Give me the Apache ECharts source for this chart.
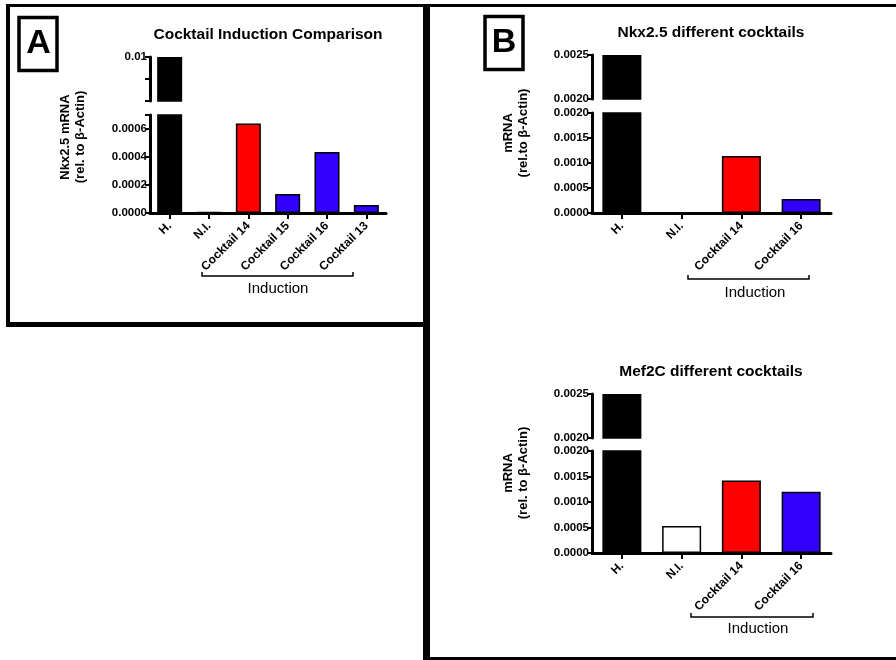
<!DOCTYPE html>
<html><head><meta charset="utf-8">
<script src="https://cdn.jsdelivr.net/npm/echarts@6/dist/echarts.min.js"></script>
<style>html,body{margin:0;padding:0;background:#fff}#c{width:896px;height:660px}</style>
</head><body><div id="c"></div>
<script>
// ---- data ----
const catsA = ['H.', 'N.I.', 'Cocktail 14', 'Cocktail 15', 'Cocktail 16', 'Cocktail 13'];
const valsA = [0.01, 0.000008, 0.00064, 0.000136, 0.000436, 0.000057];
const colorsA = ['#000000', '#ffffff', '#ff0000', '#3300ff', '#3300ff', '#3300ff'];

const catsB = ['H.', 'N.I.', 'Cocktail 14', 'Cocktail 16'];
const valsNkx = [0.0025, 0, 0.00114, 0.00028];
const valsMef = [0.0025, 0.00053, 0.00142, 0.0012];
const colorsB = ['#000000', '#ffffff', '#ff0000', '#3300ff'];

const ticksAUpper = ['0.01'];
const ticksALower = ['0.0000', '0.0002', '0.0004', '0.0006'];
const ticksBUpper = ['0.0020', '0.0025'];
const ticksBLower = ['0.0000', '0.0005', '0.0010', '0.0015', '0.0020'];

const titleA = 'Cocktail Induction Comparison';
const titleB1 = 'Nkx2.5 different cocktails';
const titleB2 = 'Mef2C different cocktails';
const yNameA = 'Nkx2.5 mRNA\n(rel. to β-Actin)';
const yNameB1 = 'mRNA\n(rel.to β-Actin)';
const yNameB2 = 'mRNA\n(rel. to β-Actin)';
const groupLabel = 'Induction';

// ---- chart ----
const FF = '"Liberation Sans", Arial, sans-serif';
const chart = echarts.init(document.getElementById('c'), null, {renderer: 'canvas'});

function fmt(labels) {
  return function (v) {
    for (const l of labels) { if (Math.abs(parseFloat(l) - v) < 1e-9) return l; }
    return '';
  };
}
function barData(vals, colors) {
  return vals.map((v, i) => ({value: v, itemStyle: {color: colors[i]}}));
}

const grids = [
  {left: 150, top: 57, width: 236, height: 44},
  {left: 150, top: 115, width: 236, height: 98},
  {left: 592, top: 55, width: 239, height: 44},
  {left: 592, top: 113, width: 239, height: 100},
  {left: 592, top: 394, width: 239, height: 44},
  {left: 592, top: 451, width: 239, height: 102}
];

function xAx(i, cats, shown) {
  return {
    type: 'category', gridIndex: i, data: cats, show: shown,
    axisLine: {show: true, lineStyle: {color: '#000', width: 3}},
    axisTick: {show: true, alignWithLabel: true, length: 6, lineStyle: {color: '#000', width: 2}},
    axisLabel: {rotate: 45, interval: 0, fontWeight: 'bold', fontSize: 12, color: '#000', margin: 11, fontFamily: FF},
    splitLine: {show: false}
  };
}
function yAx(i, min, max, interval, labels) {
  return {
    type: 'value', gridIndex: i, min: min, max: max, interval: interval,
    axisLine: {show: true, lineStyle: {color: '#000', width: 3}},
    axisTick: {show: true, length: 5, lineStyle: {color: '#000', width: 2}},
    axisLabel: {formatter: fmt(labels), fontWeight: 'bold', fontSize: 11.5, color: '#000', margin: 3, fontFamily: FF},
    splitLine: {show: false}
  };
}
function barS(i, vals, colors, w) {
  return {
    type: 'bar', xAxisIndex: i, yAxisIndex: i, data: barData(vals, colors),
    barWidth: w, clip: true,
    itemStyle: {borderColor: '#000', borderWidth: 1.5}
  };
}

function txt(x, y, text, font, rot, lh) {
  return {
    type: 'text', x: x, y: y, rotation: rot || 0, silent: true,
    style: {text: text, font: font, fill: '#000', align: 'center', verticalAlign: 'middle',
            textAlign: 'center', textVerticalAlign: 'middle', lineHeight: lh || 16}
  };
}
function ln(x1, y1, x2, y2, w) {
  return {type: 'line', silent: true, shape: {x1: x1, y1: y1, x2: x2, y2: y2}, style: {stroke: '#000', lineWidth: w}};
}
function bracket(x1, x2, y) {
  return {type: 'polyline', silent: true, shape: {points: [[x1, y - 4], [x1, y], [x2, y], [x2, y - 4]]},
          style: {stroke: '#000', lineWidth: 1.5, fill: null}};
}

const graphics = [
  ln(6, 5.5, 896, 5.5, 3),
  ln(8, 4, 8, 327, 4),
  ln(6, 324.5, 427, 324.5, 5),
  ln(426.5, 4, 426.5, 660, 7),
  ln(423, 658.5, 896, 658.5, 3),
  {type: 'rect', silent: true, shape: {x: 19, y: 17.5, width: 38, height: 53}, style: {fill: '#fff', stroke: '#000', lineWidth: 3.5}},
  txt(38.5, 44, 'A', 'bold 34px ' + FF),
  {type: 'rect', silent: true, shape: {x: 485, y: 16.5, width: 38, height: 53}, style: {fill: '#fff', stroke: '#000', lineWidth: 3.5}},
  txt(504, 43, 'B', 'bold 34px ' + FF),
  txt(268, 35, titleA, 'bold 15.5px ' + FF),
  txt(711, 33, titleB1, 'bold 15.5px ' + FF),
  txt(711, 372, titleB2, 'bold 15.5px ' + FF),
  txt(72.5, 137, yNameA, 'bold 13px ' + FF, Math.PI / 2, 15),
  txt(516, 133, yNameB1, 'bold 13px ' + FF, Math.PI / 2, 15),
  txt(516, 473, yNameB2, 'bold 13px ' + FF, Math.PI / 2, 15),
  bracket(202, 353, 276),
  txt(278, 289, groupLabel, '15px ' + FF),
  bracket(688, 809, 279),
  txt(755, 293, groupLabel, '15px ' + FF),
  bracket(691, 813, 617),
  txt(758, 629, groupLabel, '15px ' + FF)
];

chart.setOption({
  animation: false,
  backgroundColor: '#fff',
  grid: grids,
  xAxis: [
    xAx(0, catsA, false), xAx(1, catsA, true),
    xAx(2, catsB, false), xAx(3, catsB, true),
    xAx(4, catsB, false), xAx(5, catsB, true)
  ],
  yAxis: [
    yAx(0, 0.008, 0.01, 0.001, ticksAUpper),
    yAx(1, 0, 0.0007, 0.0002, ticksALower),
    yAx(2, 0.002, 0.0025, 0.0005, ticksBUpper),
    yAx(3, 0, 0.002, 0.0005, ticksBLower),
    yAx(4, 0.002, 0.0025, 0.0005, ticksBUpper),
    yAx(5, 0, 0.002, 0.0005, ticksBLower)
  ],
  series: [
    barS(0, valsA, colorsA, 25), barS(1, valsA, colorsA, 25),
    barS(2, valsNkx, colorsB, 39), barS(3, valsNkx, colorsB, 39),
    barS(4, valsMef, colorsB, 39), barS(5, valsMef, colorsB, 39)
  ],
  graphic: {elements: graphics}
});
</script>
</body></html>
